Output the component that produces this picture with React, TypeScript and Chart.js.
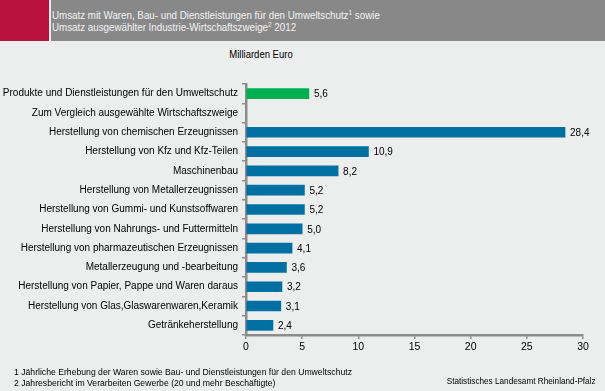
import React, { useEffect, useRef } from "react";
import { Chart, registerables } from "chart.js";

Chart.register(...registerables);

const categories: string[] = [
  "Produkte und Dienstleistungen für den Umweltschutz",
  "Zum Vergleich ausgewählte Wirtschaftszweige",
  "Herstellung von chemischen Erzeugnissen",
  "Herstellung von Kfz und Kfz-Teilen",
  "Maschinenbau",
  "Herstellung von Metallerzeugnissen",
  "Herstellung von Gummi- und Kunstsoffwaren",
  "Herstellung von Nahrungs- und Futtermitteln",
  "Herstellung von pharmazeutischen Erzeugnissen",
  "Metallerzeugung und -bearbeitung",
  "Herstellung von Papier, Pappe und Waren daraus",
  "Herstellung von Glas,Glaswarenwaren,Keramik",
  "Getränkeherstellung",
];

const values: (number | null)[] = [5.6, null, 28.4, 10.9, 8.2, 5.2, 5.2, 5.0, 4.1, 3.6, 3.2, 3.1, 2.4];

const xTicks: number[] = [0, 5, 10, 15, 20, 25, 30];

const GREEN = "#00B050";
const BLUE = "#0070A2";
const AXIS = "#8C8C8C";
const FONT = "'Liberation Sans', Arial, sans-serif";

const valueLabels = {
  id: "valueLabels",
  afterDatasetsDraw(chart: any) {
    const ctx = chart.ctx;
    const meta = chart.getDatasetMeta(0);
    ctx.save();
    ctx.font = `10px ${FONT}`;
    ctx.fillStyle = "#000";
    ctx.textBaseline = "middle";
    ctx.textAlign = "left";
    meta.data.forEach((el: any, i: number) => {
      const v = values[i];
      if (v === null || v === undefined) return;
      ctx.fillText(v.toFixed(1).replace(".", ","), el.x + 5, el.y + 1);
    });
    ctx.restore();
  },
};

export default function App() {
  const ref = useRef<HTMLCanvasElement | null>(null);

  useEffect(() => {
    if (!ref.current) return;
    const chart = new Chart(ref.current, {
      type: "bar",
      data: {
        labels: categories,
        datasets: [
          {
            data: values as any,
            backgroundColor: values.map((_, i) => (i === 0 ? GREEN : BLUE)),
            barThickness: 10,
            borderWidth: 0,
          },
        ],
      },
      options: {
        indexAxis: "y",
        responsive: false,
        animation: false,
        layout: { padding: { left: 0, top: 84, right: 22, bottom: 0 } },
        plugins: {
          legend: { display: false },
          tooltip: { enabled: false },
          title: { display: false },
        },
        scales: {
          y: {
            type: "category",
            afterFit: (s: any) => {
              s.width = 246;
            },
            border: { display: true, color: AXIS, width: 2.5 },
            grid: {
              display: true,
              drawOnChartArea: false,
              drawTicks: true,
              tickLength: 4,
              color: AXIS,
              lineWidth: 1.5,
              offset: true,
            },
            ticks: {
              color: "#000",
              padding: 4,
              autoSkip: false,
              font: { family: FONT, size: 10 },
            },
          },
          x: {
            type: "linear",
            min: 0,
            max: 30,
            afterFit: (s: any) => {
              s.height = 56;
            },
            afterBuildTicks: (s: any) => {
              s.ticks = xTicks.map((v) => ({ value: v }));
            },
            border: { display: true, color: AXIS, width: 2.5 },
            grid: {
              display: true,
              drawOnChartArea: false,
              drawTicks: true,
              tickLength: 4,
              color: AXIS,
              lineWidth: 1.5,
            },
            ticks: {
              color: "#000",
              padding: 2,
              font: { family: FONT, size: 10.5 },
            },
          },
        },
      },
      plugins: [valueLabels],
    });
    return () => chart.destroy();
  }, []);

  const txt: React.CSSProperties = { position: "absolute", fontFamily: FONT, whiteSpace: "nowrap", lineHeight: "12px" };
  const narrowL: React.CSSProperties = { transformOrigin: "left center" };
  const sup: React.CSSProperties = { fontSize: 7, verticalAlign: "4px", lineHeight: 0 };

  return (
    <div style={{ position: "absolute", left: 0, top: 0, width: 605, height: 391, background: "#ECEDED", overflow: "hidden" }}>
      <div style={{ position: "absolute", left: 0, top: 0, width: 49, height: 41, background: "#B8133F" }} />
      <div style={{ position: "absolute", left: 51, top: 0, width: 554, height: 41, background: "#888889" }} />
      <div style={{ ...txt, ...narrowL, left: 52, top: 9, color: "#F4F4F4", fontSize: 10.5, transform: "scaleX(0.93)" }}>
        Umsatz mit Waren, Bau- und Dienstleistungen für den Umweltschutz<sup style={sup}>1</sup> sowie
      </div>
      <div style={{ ...txt, ...narrowL, left: 52, top: 21, color: "#F4F4F4", fontSize: 10.5, transform: "scaleX(0.93)" }}>
        Umsatz ausgewählter Industrie-Wirtschaftszweige<sup style={sup}>2</sup> 2012
      </div>
      <div style={{ ...txt, left: 0, width: 522, textAlign: "center", top: 49, color: "#000", fontSize: 10, transform: "scaleX(0.95)" }}>Milliarden Euro</div>
      <canvas ref={ref} width={605} height={391} style={{ position: "absolute", left: 0, top: 0, width: 605, height: 391 }} />
      <div style={{ ...txt, ...narrowL, left: 14, top: 366, color: "#000", fontSize: 9.5, transform: "scaleX(0.91)" }}>
        1 Jährliche Erhebung der Waren sowie Bau- und Dienstleistungen für den Umweltschutz
      </div>
      <div style={{ ...txt, ...narrowL, left: 14, top: 377, color: "#000", fontSize: 9.5, transform: "scaleX(0.91)" }}>
        2 Jahresbericht im Verarbeiten Gewerbe (20 und mehr Beschäftigte)
      </div>
      <div style={{ ...txt, right: 9, top: 375, color: "#000", fontSize: 9, transformOrigin: "right center", transform: "scaleX(0.91)" }}>
        Statistisches Landesamt Rheinland-Pfalz
      </div>
    </div>
  );
}
